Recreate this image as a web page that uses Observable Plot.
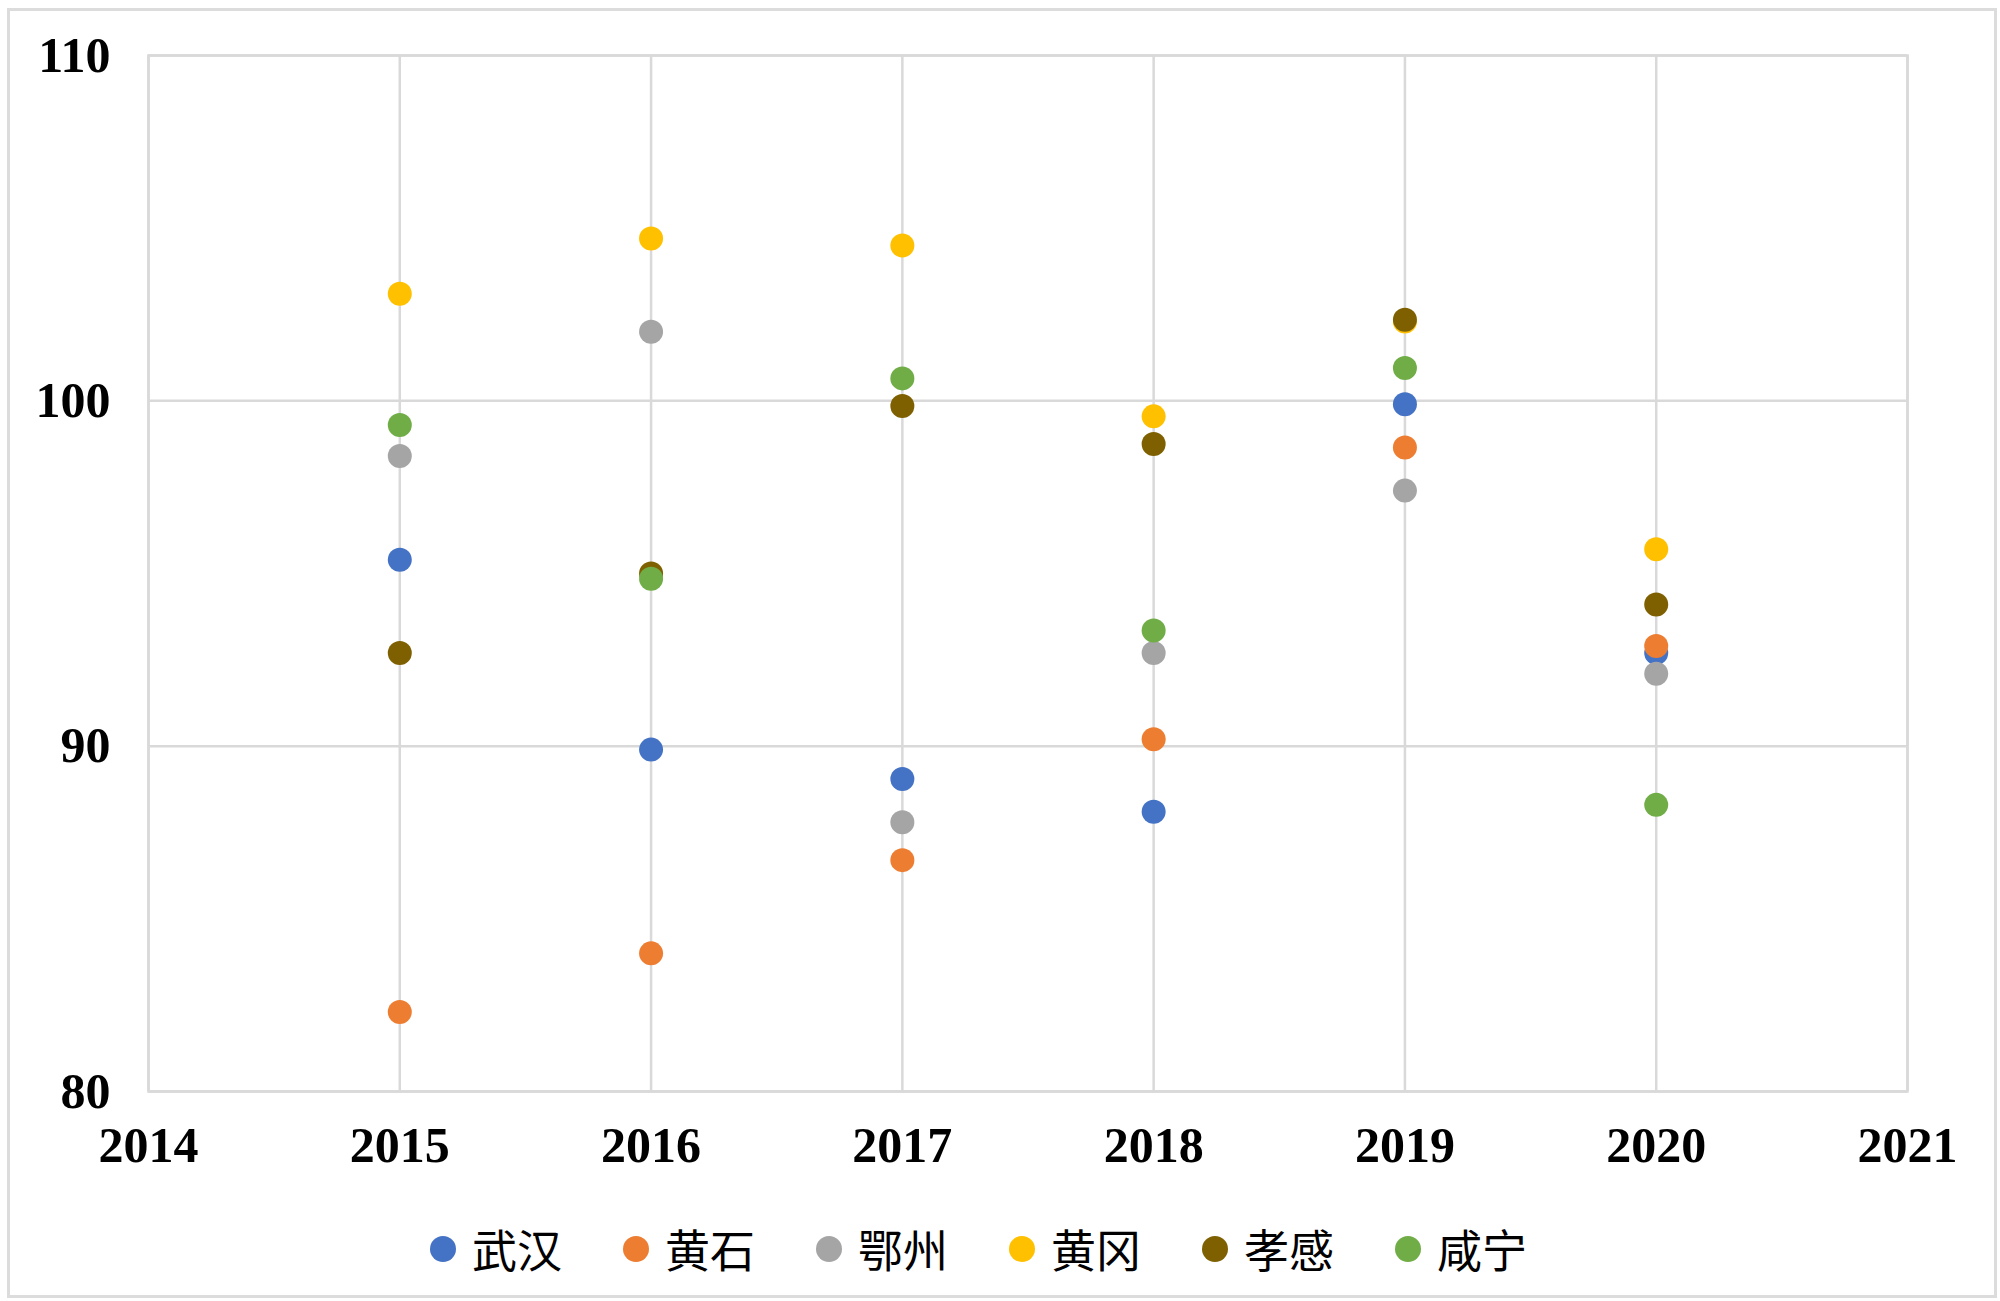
<!DOCTYPE html>
<html>
<head>
<meta charset="utf-8">
<script src="https://cdn.jsdelivr.net/npm/d3@7"></script>
<script src="https://cdn.jsdelivr.net/npm/@observablehq/plot@0.6"></script>
<style>
  html, body { margin: 0; padding: 0; background: #fff; }
  #wrap { position: relative; width: 2000px; height: 1301px; overflow: hidden; }
  #border { position: absolute; left: 7px; top: 8px; width: 1984px; height: 1284px; border: 3px solid #dcdcdc; pointer-events: none; }
  #chart { position: absolute; left: 0; top: 0; }
  #legend { position: absolute; left: 430px; top: 1216px; display: flex; align-items: center; font-family: "Noto Sans CJK SC", sans-serif; font-size: 45px; color: #000; }
  .item { display: flex; align-items: center; margin-right: 61px; }
  .sw { width: 26px; height: 26px; border-radius: 50%; margin-right: 16px; }
</style>
</head>
<body>
<div id="wrap">
  <div id="chart"></div>
  <div id="legend"></div>
  <div id="border"></div>
</div>
<script>
const years = [2015, 2016, 2017, 2018, 2019, 2020];
const cities = ["武汉", "黄石", "鄂州", "黄冈", "孝感", "咸宁"];
const cityColors = ["#4472C4", "#ED7D31", "#A5A5A5", "#FFC000", "#7F6000", "#70AD47"];
const wuhan    = [95.4, 89.9, 89.05, 88.1, 99.9, 92.7];
const huangshi = [82.3, 84.0, 86.7, 90.2, 98.65, 92.9];
const ezhou    = [98.4, 102.0, 87.8, 92.7, 97.4, 92.1];
const huanggang= [103.1, 104.7, 104.5, 99.55, 102.3, 95.7];
const xiaogan  = [92.7, 95.0, 99.85, 98.75, 102.35, 94.1];
const xianning = [99.3, 94.85, 100.65, 93.35, 100.95, 88.3];
const xTicks = [2014, 2015, 2016, 2017, 2018, 2019, 2020, 2021];
const yTicks = [80, 90, 100, 110];

const series = [wuhan, huangshi, ezhou, huanggang, xiaogan, xianning];
const data = [];
cities.forEach((c, i) => years.forEach((y, j) => data.push({city: c, year: y, value: series[i][j]})));

const chart = Plot.plot({
  width: 2000,
  height: 1185,
  marginLeft: 148,
  marginRight: 93,
  marginTop: 55,
  marginBottom: 94,
  style: {background: "transparent", fontFamily: "'Liberation Serif', 'Times New Roman', serif"},
  x: {domain: [2014, 2021], ticks: xTicks, tickFormat: "d", tickSize: 0, tickPadding: 36, label: null},
  y: {domain: [80, 110], ticks: yTicks, tickSize: 0, tickPadding: 38, label: null},
  color: {domain: cities, range: cityColors},
  marks: [
    Plot.gridX(xTicks, {stroke: "#d9d9d9", strokeOpacity: 1, strokeWidth: 2.5}),
    Plot.gridY(yTicks, {stroke: "#d9d9d9", strokeOpacity: 1, strokeWidth: 2.5}),
    Plot.frame({stroke: "#d9d9d9", strokeWidth: 2.5}),
    Plot.axisX({ticks: xTicks, tickFormat: "d", tickSize: 0, tickPadding: 35, fontSize: 50, fontWeight: "bold", fill: "#000", label: null}),
    Plot.axisY({ticks: yTicks, tickSize: 0, tickPadding: 38, fontSize: 50, fontWeight: "bold", fill: "#000", label: null}),
    Plot.dot(data, {x: "year", y: "value", fill: "city", r: 12})
  ]
});
document.getElementById("chart").appendChild(chart);

const legend = document.getElementById("legend");
cities.forEach((c, i) => {
  const item = document.createElement("div");
  item.className = "item";
  const sw = document.createElement("span");
  sw.className = "sw";
  sw.style.background = cityColors[i];
  const t = document.createElement("span");
  t.textContent = c;
  item.appendChild(sw);
  item.appendChild(t);
  legend.appendChild(item);
});
</script>
</body>
</html>
